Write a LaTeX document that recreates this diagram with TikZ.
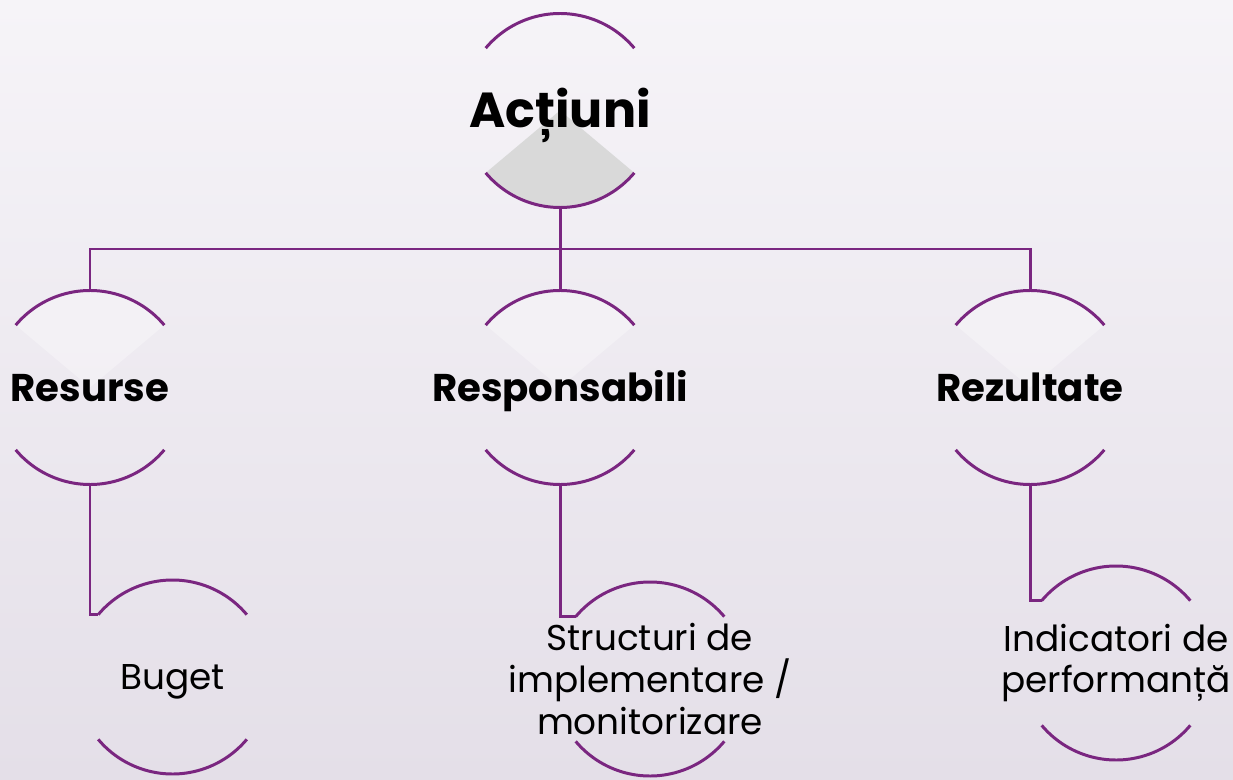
\documentclass[tikz,border=0pt]{standalone}
\usepackage{fontspec}
\setmainfont{Poppins}
\usetikzlibrary{calc}
\definecolor{arcpurple}{RGB}{122,38,128}
\definecolor{bgtop}{RGB}{246,244,248}
\definecolor{bgbot}{RGB}{228,223,232}
\definecolor{sectorgray}{RGB}{217,217,217}
\newcommand{\arcpair}[1]{%
	\draw[arcline] (#1.140) arc[start angle=140, end angle=40, radius=0.97];
	\draw[arcline] (#1.220) arc[start angle=220, end angle=320, radius=0.97];}

\begin{document}
\begin{tikzpicture}[
	arcline/.style={draw=arcpurple, line width=0.85pt},
	link/.style={draw=arcpurple, line width=0.85pt},
	ring/.style={circle, minimum size=1.94cm, inner sep=0pt, outer sep=0pt},
	headtext/.style={font=\fontsize{14}{17}\selectfont\bfseries, text height=9.9pt, text depth=0pt},
	subtext/.style={font=\fontsize{11}{13}\selectfont\bfseries, text height=7.8pt, text depth=0pt},
	leaftext/.style={font=\fontsize{10.2}{11.9}\selectfont, align=center}]

% ===== Background =====
\shade[top color=bgtop, bottom color=bgbot] (0,0) rectangle (12.33,7.79);
\useasboundingbox (0,0) rectangle (12.33,7.79);

% ===== Top: actions =====
\node[ring, path picture={\fill[sectorgray] (path picture bounding box.center)
	-- +(220:0.97) arc[start angle=220, end angle=320, radius=0.97] -- cycle;},
	label={[headtext]center:Acțiuni}] (act) at (5.60,6.685) {};

% ===== Middle row =====
\tikzset{faint/.style={path picture={\fill[white, opacity=0.3]
	(path picture bounding box.center) -- +(40:0.97)
	arc[start angle=40, end angle=140, radius=0.97] -- cycle;}}}
\node[ring, faint, label={[subtext]center:Resurse}] (res) at (0.90,3.915) {};
\node[ring, faint, label={[subtext]center:Responsabili}] (resp) at (5.60,3.915) {};
\node[ring, faint, label={[subtext]center:Rezultate}] (rez) at (10.30,3.915) {};

% ===== Bottom row =====
\node[ring, label={[leaftext, text height=7.2pt, text depth=0pt]center:Buget}] (bug) at (1.725,1.02) {};
\node[ring, label={[leaftext]center:{Structuri de\\implementare /\\monitorizare}}] (str) at (6.50,1.00) {};
\node[ring, label={[leaftext]center:{Indicatori de\\performanță}}] (ind) at (11.16,1.16) {};

% arcs of every ring
\foreach \n in {act,res,resp,rez,bug,str,ind} {\arcpair{\n}}

% ===== Connectors =====
\coordinate (bar) at (5.60,5.30);
\draw[link] (act.south) -- (bar);
\draw[link] (res.north) |- (bar) -| (rez.north);
\draw[link] (bar) -- (resp.north);
\draw[link] (res.south) |- (bug.140);
\draw[link] (resp.south) |- (str.140);
\draw[link] (rez.south) |- (ind.140);

\end{tikzpicture}
\end{document}
